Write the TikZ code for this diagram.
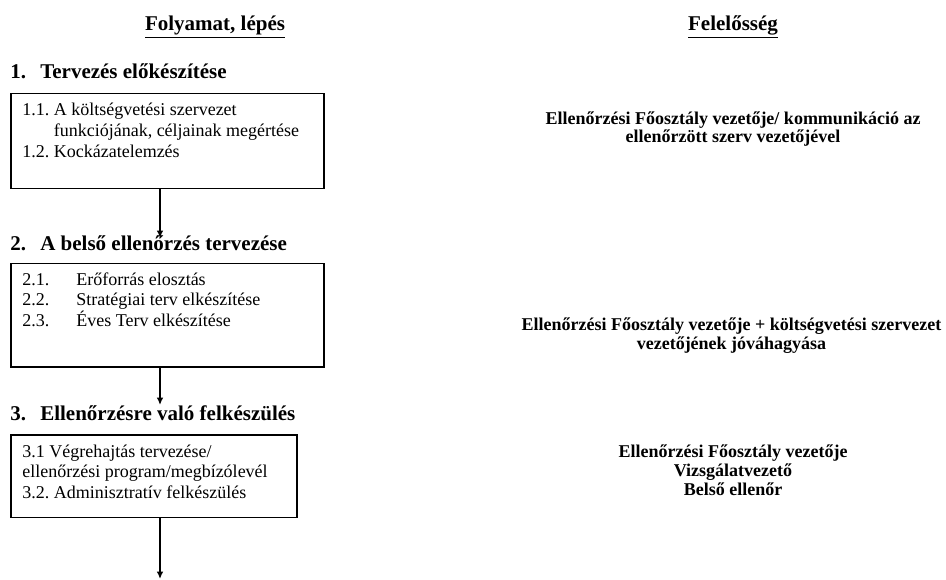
\documentclass[tikz,border=0pt]{standalone}
\usepackage{fontspec}
\setmainfont{Liberation Serif}
\usetikzlibrary{arrows.meta,positioning}
\frenchspacing

\begin{document}
\begin{tikzpicture}[x=0.6667pt, y=-0.6667pt,
    colhead/.style={font=\fontsize{14pt}{16pt}\selectfont\bfseries, anchor=base, inner sep=0pt},
    steptitle/.style={font=\fontsize{14pt}{16pt}\selectfont\bfseries, anchor=base west, inner sep=0pt},
    stepbox/.style={draw, line width=1pt, anchor=north west, inner sep=0pt},
    boxtext/.style={font=\fontsize{12pt}{13.8pt}\selectfont, anchor=base west, inner sep=0pt},
    resp/.style={font=\fontsize{12pt}{12.5pt}\selectfont\bfseries, align=center, inner sep=0pt},
    flow/.style={-{Latex[length=5pt,width=4.5pt]}, line width=1pt}]
  \useasboundingbox (0,0) rectangle (946,580);

  \node[colhead] (hproc) at (215,30.7) {\underline{Folyamat, lépés}};
  \node[colhead] (hresp) at (733,30.7) {\underline{Felelősség}};

  \begin{scope}[every node/.style={steptitle}]
    \node (s1) at (10,79) {\makebox[20pt][l]{1.}Tervezés előkészítése};
    \node (s2) at (10,250) {\makebox[20pt][l]{2.}A belső ellenőrzés tervezése};
    \node (s3) at (10,420.7) {\makebox[20pt][l]{3.}Ellenőrzésre való felkészülés};
  \end{scope}

  \node[stepbox, minimum width=208.7pt, minimum height=63.3pt] (box1) at (10,93) {};
  \node[stepbox, minimum width=208.7pt, minimum height=68.9pt] (box2) at (10,262.7) {};
  \node[stepbox, minimum width=190.7pt, minimum height=54.9pt] (box3) at (10,434.3) {};

  \node[boxtext] (txt1) at ([shift={(12,23)}]box1.north west)
    {\begin{tabular}[t]{@{}l@{ }l@{}}1.1.&A költségvetési szervezet\\
      &funkciójának, céljainak megértése\\
      1.2.&Kockázatelemzés\end{tabular}};
  \node[boxtext] (txt2) at ([shift={(12,22.3)}]box2.north west)
    {\begin{tabular}[t]{@{}p{36pt}@{}l@{}}2.1.&Erőforrás elosztás\\
      2.2.&Stratégiai terv elkészítése\\
      2.3.&\smash{Éves Terv elkészítése}\end{tabular}};
  \node[boxtext] (txt3) at ([shift={(12,22.7)}]box3.north west)
    {\begin{tabular}[t]{@{}l@{}}3.1 Végrehajtás tervezése/\\
      ellenőrzési program/megbízólevél\\
      3.2. Adminisztratív felkészülés\end{tabular}};

  \begin{scope}[every node/.style={resp}]
    \node (r1) at (733,129) {Ellenőrzési Főosztály vezetője/ kommunikáció az\\ellenőrzött szerv vezetőjével};
    \node (r2) at (731.5,336) {Ellenőrzési Főosztály vezetője + költségvetési szervezet\\vezetőjének jóváhagyása};
    \node (r3) at (733,470) {Ellenőrzési Főosztály vezetője\\Vizsgálatvezető\\Belső ellenőr};
  \end{scope}

  \coordinate (t1) at (160,238);
  \coordinate (t2) at (160,405);
  \coordinate (t3) at (160,579);
  \begin{scope}[flow]
    \draw (box1.south -| t1) to (t1);
    \draw (box2.south -| t2) to (t2);
    \draw (box3.south -| t3) to (t3);
  \end{scope}
\end{tikzpicture}
\end{document}
